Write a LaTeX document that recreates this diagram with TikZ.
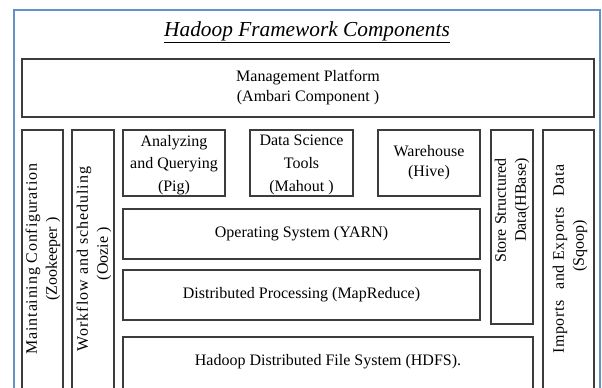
\documentclass[tikz,border=0pt]{standalone}
\usepackage{fontspec}
\setmainfont{Liberation Serif}
\usepackage{tikz}

\definecolor{frameblue}{RGB}{100,145,200}
\definecolor{boxgray}{RGB}{60,60,60}

\newcommand\wideline[2]{{\addfontfeatures{LetterSpace=#1}#2}}

\begin{document}
\begin{tikzpicture}[x=0.75pt,y=-0.75pt,
  box/.style={draw=boxgray, line width=0.8pt},
  txt/.style={align=center, inner sep=0pt, font=\fontsize{12}{15}\selectfont},
  tooltxt/.style={txt, font=\fontsize{12}{17}\selectfont},
  sidetxt/.style={txt, rotate=90}]

  \def\xmin{0}
  \def\xmax{602}
  \def\ymin{0}
  \def\ymax{387}
  \def\ybot{395}

  \useasboundingbox (\xmin,\ymin) rectangle (\xmax,\ymax);
  \clip (\xmin,\ymin) rectangle (\xmax,\ymax);

  % frame and title
  \draw[frameblue, line width=1.2pt] (14,\ybot) -- (14,10) -- (600,10) -- (600,\ybot);
  \node[anchor=base, inner sep=0pt, font=\fontsize{16}{19}\selectfont\itshape]
    (title) at (307,36) {\underline{Hadoop Framework Components}};

  % management
  \draw[box] (22,59) rectangle (594,117);
  \node[txt] (ambari) at (308,88) {Management Platform\\(Ambari Component )};

  % side columns
  \draw[box] (22,130) rectangle (63,\ybot);
  \node[sidetxt] (zookeeper) at (43,259)
    {\wideline{5}{Maintaining Configuration}\\(Zookeeper )};
  \draw[box] (72,130) rectangle (114,\ybot);
  \node[sidetxt] (oozie) at (94,259)
    {\wideline{6}{Workflow and scheduling}\\\hspace*{8pt}(Oozie )};
  \draw[box] (491,130) rectangle (533,324);
  \node[sidetxt, align=right, anchor=east] (hbase) at (512,158) {Store Structured\\Data(HBase)};
  \draw[box] (543,130) rectangle (594,\ybot);
  \node[sidetxt] (sqoop) at (570,259)
    {\wideline{4}{Imports\hspace{4.5pt} and Exports\hspace{4.5pt} Data}\\\hspace*{20pt}(Sqoop)};

  % tools
  \draw[box] (123,130) rectangle (225,196);
  \node[tooltxt] (pig) at (174,165) {Analyzing\\and Querying\\(Pig)};
  \draw[box] (250,130) rectangle (353,196);
  \node[tooltxt] (mahout) at (301.5,165) {Data Science\\Tools\\(Mahout )};
  \draw[box] (378,130) rectangle (480,196);
  \node[txt] (hive) at (429,163) {Warehouse\\(Hive)};

  % layers
  \draw[box] (123,209) rectangle (480,259);
  \node[txt] (yarn) at (301.5,234) {Operating System (YARN)};
  \draw[box] (123,270) rectangle (480,320);
  \node[txt] (mapreduce) at (301.5,295) {Distributed Processing (MapReduce)};
  \draw[box] (123,337) rectangle (533,\ybot);
  \node[txt] (hdfs) at (328,362) {Hadoop Distributed File System (HDFS).};

\end{tikzpicture}
\end{document}
